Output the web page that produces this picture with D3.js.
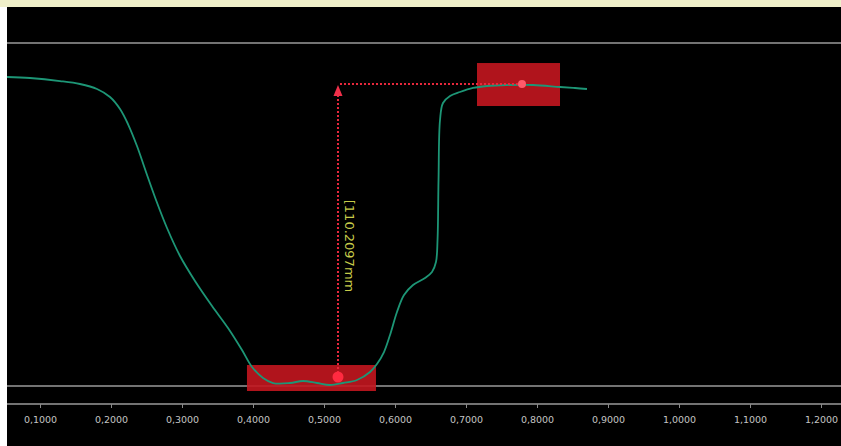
<!DOCTYPE html>
<html>
<head>
<meta charset="utf-8">
<script src="https://cdn.jsdelivr.net/npm/d3@7"></script>
<style>
  html, body { margin: 0; padding: 0; background: #ffffff; }
  svg { display: block; }
</style>
</head>
<body>
<svg id="chart" width="841" height="446"></svg>
<script>
// Profile trace (position vs. height in mm)
const profileX = [0.0535, 0.0859, 0.1282, 0.1563, 0.1803, 0.1986, 0.2127, 0.2239, 0.2366, 0.2493,
  0.2634, 0.2789, 0.2972, 0.3183, 0.3423, 0.3648, 0.3845, 0.3986, 0.4141, 0.4282,
  0.4521, 0.4704, 0.4901, 0.5085, 0.5268, 0.5465, 0.5648, 0.5746, 0.5845, 0.5930,
  0.6028, 0.6127, 0.6254, 0.6423, 0.6521, 0.6577, 0.6599, 0.6613, 0.6634, 0.6676,
  0.6775, 0.6915, 0.7099, 0.7296, 0.7577, 0.7944, 0.8324, 0.8535, 0.8704];
const profileY = [112.84, 112.46, 111.33, 110.21, 108.33, 105.32, 100.80, 95.16, 86.88, 77.11,
  66.57, 56.04, 45.51, 36.11, 26.70, 18.43, 10.15, 3.76, -0.38, -2.26,
  -2.26, -1.50, -2.26, -3.01, -2.26, -1.13, 1.88, 4.89, 9.40, 15.80,
  24.45, 30.84, 34.60, 37.24, 39.49, 43.25, 51.53, 74.10, 96.67, 103.06,
  105.69, 107.20, 108.71, 109.46, 109.83, 109.83, 109.08, 108.71, 108.33];

// Axis ticks
const xTicks = [0.1, 0.2, 0.3, 0.4, 0.5, 0.6, 0.7, 0.8, 0.9, 1.0, 1.1, 1.2];

// Horizontal reference levels (mm)
const refLevels = [125.63, -3.39];

// Measurement markers: low point and high point (mm)
const markerX = [0.5197, 0.7789];
const markerY = [0, 110.2097];
const measureLabel = "[110.2097mm";

// Selection windows around each marker
const boxX0 = [0.3915, 0.7155];
const boxX1 = [0.5732, 0.8324];
const boxY0 = [-5.27, 101.93];
const boxY1 = [4.51, 118.10];

const W = 841, H = 446;
const svg = d3.select("#chart");

// Frame: pale top band, white left margin, black plot field
svg.append("rect").attr("x", 0).attr("y", 0).attr("width", W).attr("height", H).attr("fill", "#ffffff");
svg.append("rect").attr("x", 0).attr("y", 0).attr("width", W).attr("height", 7).attr("fill", "#f0f0ca");
svg.append("rect").attr("x", 7).attr("y", 7).attr("width", W - 7).attr("height", H - 7).attr("fill", "#000000");

const x = d3.scaleLinear().domain([0.1, 1.2]).range([40, 821]);
const y = d3.scaleLinear().domain([0, 110.2097]).range([377, 84]);

// Reference levels
svg.selectAll("line.ref").data(refLevels).join("line")
  .attr("class", "ref")
  .attr("x1", 7).attr("x2", W)
  .attr("y1", d => y(d)).attr("y2", d => y(d))
  .attr("stroke", "#9a9a9a").attr("stroke-width", 1.6);

// X axis
const axisG = svg.append("g").attr("transform", "translate(0,404)");
axisG.append("line").attr("x1", 7).attr("x2", W).attr("y1", 0).attr("y2", 0)
  .attr("stroke", "#9a9a9a").attr("stroke-width", 1.6);
const axis = d3.axisBottom(x).tickValues(xTicks).tickSize(4).tickPadding(8)
  .tickFormat(d => d3.format(".4f")(d).replace(".", ","));
const ag = axisG.append("g").call(axis);
ag.select(".domain").remove();
ag.selectAll(".tick line").attr("stroke", "#8a8a8a");
ag.selectAll(".tick text")
  .attr("fill", "#c4c4c4")
  .attr("font-family", "DejaVu Sans, sans-serif")
  .attr("font-size", 9.5);

// Selection windows
svg.selectAll("rect.win").data(boxX0).join("rect")
  .attr("class", "win")
  .attr("x", (d, i) => x(boxX0[i]))
  .attr("width", (d, i) => x(boxX1[i]) - x(boxX0[i]))
  .attr("y", (d, i) => y(boxY1[i]))
  .attr("height", (d, i) => y(boxY0[i]) - y(boxY1[i]))
  .attr("fill", "#c3161f").attr("fill-opacity", 0.9);

// Profile line
const pts = profileX.map((v, i) => [v, profileY[i]]);
const line = d3.line().x(d => x(d[0])).y(d => y(d[1])).curve(d3.curveCatmullRom.alpha(0.5));
svg.append("path").datum(pts)
  .attr("d", line)
  .attr("fill", "none")
  .attr("stroke", "#1d9676")
  .attr("stroke-width", 1.8)
  .attr("stroke-linejoin", "round");

// Measurement leader lines
const red = "#e8283c";
svg.append("line")
  .attr("x1", x(markerX[0])).attr("x2", x(markerX[0]))
  .attr("y1", y(markerY[0])).attr("y2", y(markerY[1]) + 10)
  .attr("stroke", red).attr("stroke-width", 2).attr("stroke-dasharray", "2,2");
svg.append("line")
  .attr("x1", x(markerX[0]) + 2).attr("x2", x(markerX[1]))
  .attr("y1", y(markerY[1])).attr("y2", y(markerY[1]))
  .attr("stroke", red).attr("stroke-width", 2).attr("stroke-dasharray", "2,2");

// Arrowhead at the top of the vertical leader
const ax = x(markerX[0]), ay = y(markerY[1]);
svg.append("path")
  .attr("d", `M${ax},${ay + 1} L${ax - 4.5},${ay + 12} L${ax + 4.5},${ay + 12} Z`)
  .attr("fill", "#f0304a");

// Marker dots
svg.selectAll("circle.mk").data(markerX).join("circle")
  .attr("class", "mk")
  .attr("cx", d => x(d))
  .attr("cy", (d, i) => y(markerY[i]))
  .attr("r", (d, i) => i === 0 ? 5.5 : 4)
  .attr("fill", (d, i) => i === 0 ? "#ff2a40" : "#ff5a6a");

// Measurement label, rotated along the leader
svg.append("text")
  .attr("transform", `translate(${ax + 7},${246}) rotate(90)`)
  .attr("text-anchor", "middle")
  .attr("fill", "#c8cc4a")
  .attr("font-family", "DejaVu Sans, sans-serif")
  .attr("font-size", 13)
  .text(measureLabel);
</script>
</body>
</html>
